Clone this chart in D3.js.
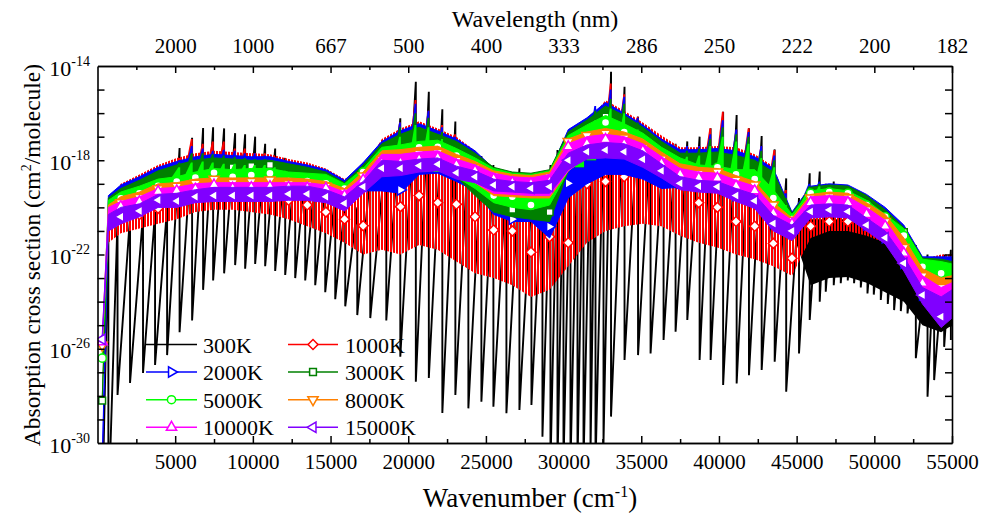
<!DOCTYPE html>
<html><head><meta charset="utf-8">
<script src="https://cdn.jsdelivr.net/npm/d3@7"></script>
<style>
body{margin:0;background:#fff}
svg{display:block}
</style>
</head><body>
<svg id="chart" width="982" height="513"></svg>
<script>
// ---------------- DATA (log10 of cross section, cm^2/molecule) ----------------
const wn = [300,700,1500,2700,3900,5100,6300,7500,8700,9900,11100,12300,13500,14700,15900,17100,18300,19500,20700,21900,23100,24300,25500,26700,27900,29100,30300,31500,32700,33900,35100,36300,37500,38700,39900,41100,42300,43500,44700,45900,47100,48300,49500,50700,51900,53100,54300,55000];

const redHi = [-32,-19.8,-19.0,-18.6,-18.2,-17.9,-17.7,-17.6,-17.65,-17.7,-17.75,-17.95,-18.1,-18.35,-18.8,-18.4,-17.1,-16.65,-16.35,-16.65,-17.0,-17.6,-18.6,-19.1,-19.3,-19.5,-18.6,-16.4,-15.45,-15.9,-16.4,-16.95,-17.45,-17.45,-17.4,-17.45,-17.75,-18.25,-20.3,-20.2,-20.2,-20.2,-20.4,-20.6,-20.9,-22.2,-22.0,-22.0];
const redLo = [-32,-21.5,-21.1,-20.9,-20.7,-20.5,-20.2,-20.1,-20.1,-20.2,-20.3,-20.5,-20.8,-21.1,-21.5,-22.0,-21.8,-22.0,-21.6,-21.8,-22.3,-22.8,-23.0,-23.3,-23.8,-23.5,-22.5,-21.5,-21.0,-20.8,-20.7,-20.8,-21.2,-21.5,-21.7,-22.0,-22.2,-22.5,-22.9,-21.3,-21.0,-21.0,-21.2,-21.5,-21.8,-23.0,-23.0,-23.0];
const redMk = [-32,null,-20.5,-20.3,-20.04,-19.8,-19.5,-19.4,-19.4,-19.5,-19.5,-19.7,-19.9,-20.2,-20.5,-20.78,-18.84,-19.97,-19.5,-19.8,-19.87,-20.4,-20.96,-21.0,-21.9,-21.25,-21.5,-19.0,-18.9,-18.7,-18.5,-17.4,-18.8,-19.8,-20.0,-20.6,-20.8,-21.53,-22.16,-20.8,-20.6,-20.6,-20.8,-21.0,-21.3,-22.6,-22.5,null];

const blueHi = [-31,-19.5,-19.05,-18.7,-18.3,-18.05,-17.85,-17.75,-17.8,-17.85,-17.85,-18.05,-18.2,-18.4,-18.85,-18.1,-17.2,-16.75,-16.45,-16.75,-17.1,-17.6,-18.35,-18.6,-18.7,-18.5,-16.7,-16.2,-15.55,-16.0,-16.5,-17.1,-17.55,-17.55,-17.5,-17.6,-17.85,-18.35,-20.2,-19.1,-19.0,-19.05,-19.45,-20.0,-20.75,-22.1,-22.1,-22.1];
const blueLo = [-31,-21.0,-20.6,-20.3,-19.9,-19.9,-19.7,-19.65,-19.65,-19.65,-19.65,-19.65,-19.65,-19.7,-20.05,-19.3,-19.3,-19.4,-18.6,-18.55,-18.9,-19.3,-20.3,-20.6,-20.6,-21.3,-19.6,-19.0,-18.6,-18.6,-18.8,-19.2,-19.15,-19.25,-19.3,-19.65,-19.95,-20.9,-21.4,-20.35,-20.3,-20.35,-20.9,-21.45,-22.6,-24.0,-25.0,-24.6];
const blueMk = [-31,null,-20.4,-20.15,-19.69,-19.73,-19.55,-19.5,-19.5,-19.5,-19.5,-19.43,-19.43,-19.55,-19.83,-19.12,-18.34,-19.26,-18.23,-18.17,-18.53,-18.7,-19.9,-20.5,-20.2,-20.82,-18.98,-17.64,-17.57,-17.64,-17.96,-18.45,-18.98,-19.1,-19.12,-19.5,-19.72,-20.68,-21.1,-20.18,-20.11,-20.18,-20.75,-21.29,-22.37,-23.72,-24.64,null];

const dgreenHi = [-28.2,-19.6,-19.2,-18.85,-18.45,-18.2,-18.0,-17.9,-17.95,-18.0,-18.0,-18.15,-18.3,-18.5,-18.95,-18.2,-17.3,-16.9,-16.6,-16.9,-17.2,-17.7,-18.3,-18.5,-18.55,-18.4,-16.8,-16.3,-15.7,-16.1,-16.6,-17.2,-17.7,-17.7,-17.65,-17.8,-18.0,-18.5,-20.25,-19.15,-19.05,-19.1,-19.5,-20.1,-20.85,-22.15,-22.2,-22.3];
const dgreenLo = [-28.2,-20.9,-20.6,-20.3,-19.9,-19.9,-19.7,-19.65,-19.65,-19.65,-19.65,-19.65,-19.65,-19.7,-20.05,-19.3,-18.6,-18.55,-18.4,-18.35,-18.7,-19.5,-20.2,-20.4,-20.5,-20.6,-18.45,-17.85,-17.8,-17.85,-18.2,-18.65,-19.15,-19.25,-19.3,-19.65,-19.95,-20.9,-21.4,-20.35,-20.3,-20.35,-20.9,-21.45,-22.6,-24.0,-25.0,-24.6];
const dgreenMk = [-28.2,null,-20.3,-20.1,-19.7,-19.7,-19.5,-19.45,-18.3,-18.25,-18.2,-19.45,-19.4,-19.5,-19.8,-19.1,-18.3,-18.3,-18.2,-17.35,-18.5,-18.7,-19.5,-20.1,-19.97,-20.2,-18.0,-17.6,-16.15,-17.6,-17.9,-18.4,-18.9,-19.1,-19.1,-19.45,-19.7,-20.6,-21.1,-20.1,-20.1,-20.1,-20.7,-21.2,-21.05,-23.7,-24.5,null];

const greenHi = [-26.4,-19.7,-19.35,-19.1,-18.8,-18.7,-18.5,-18.35,-18.4,-18.35,-18.35,-18.5,-18.55,-18.6,-19.0,-18.35,-17.45,-17.35,-17.2,-17.15,-17.5,-17.9,-18.35,-18.55,-18.6,-18.45,-16.95,-16.5,-16.1,-16.45,-16.85,-17.45,-17.9,-18.2,-18.25,-18.4,-18.4,-19.25,-20.3,-19.3,-19.2,-19.3,-19.7,-20.3,-20.9,-22.2,-22.3,-22.4];
const greenLo = [-26.4,-20.9,-20.6,-20.3,-19.9,-19.9,-19.7,-19.65,-19.65,-19.65,-19.65,-19.65,-19.65,-19.7,-20.05,-19.3,-18.6,-18.55,-18.4,-18.35,-18.7,-19.2,-19.8,-20.0,-20.1,-19.9,-18.45,-17.85,-17.8,-17.85,-18.2,-18.65,-19.15,-19.25,-19.3,-19.65,-19.95,-20.9,-21.4,-20.35,-20.3,-20.35,-20.9,-21.45,-22.6,-24.0,-25.0,-24.6];
const greenMk = [-26.4,null,-19.62,-19.4,-19.09,-18.9,-18.74,-18.53,-18.7,-18.63,-18.55,-18.88,-18.88,-18.98,-19.2,-18.5,-17.8,-17.7,-17.45,-17.43,-17.8,-18.2,-19.5,-19.55,-19.9,-19.3,-18.0,-17.3,-16.4,-16.8,-17.3,-17.85,-18.4,-18.5,-18.3,-18.6,-18.8,-19.6,-20.5,-19.4,-19.35,-19.4,-19.9,-20.4,-21.2,-22.52,-22.8,null];

const orangeHi = [-25.8,-19.9,-19.55,-19.35,-19.0,-18.95,-18.8,-18.75,-18.75,-18.75,-18.75,-18.75,-18.8,-18.9,-19.2,-18.5,-17.6,-17.55,-17.45,-17.4,-17.75,-18.05,-18.45,-18.6,-18.65,-18.5,-17.1,-16.8,-16.65,-16.8,-17.1,-17.65,-18.15,-18.3,-18.35,-18.65,-18.9,-19.8,-20.45,-19.45,-19.35,-19.4,-19.8,-20.3,-21.3,-22.6,-23.0,-22.9];
const orangeLo = [-25.85,-20.9,-20.6,-20.3,-19.9,-19.9,-19.7,-19.65,-19.65,-19.65,-19.65,-19.65,-19.65,-19.7,-20.05,-19.3,-18.6,-18.55,-18.4,-18.35,-18.7,-18.95,-19.5,-19.55,-19.6,-19.6,-18.45,-17.85,-17.8,-17.85,-18.2,-18.65,-19.15,-19.25,-19.3,-19.65,-19.95,-20.9,-21.4,-20.35,-20.3,-20.35,-20.9,-21.45,-22.6,-24.0,-25.0,-24.6];
const orangeMk = [-25.85,null,-19.8,-19.58,-19.21,-19.1,-18.98,-18.8,-18.94,-18.9,-18.84,-19.0,-19.03,-19.1,-19.35,-18.67,-17.97,-17.9,-17.7,-17.67,-18.0,-18.33,-18.65,-18.8,-18.85,-18.7,-17.2,-16.95,-16.85,-17.05,-17.45,-17.95,-18.5,-18.55,-18.5,-18.85,-19.05,-19.9,-20.55,-19.6,-19.55,-19.6,-20.1,-20.6,-21.7,-22.9,-23.4,null];

const magentaHi = [-25.6,-20.0,-19.75,-19.55,-19.2,-19.15,-19.0,-18.95,-18.95,-18.95,-18.95,-18.95,-18.95,-19.05,-19.35,-18.7,-17.75,-17.75,-17.65,-17.6,-17.95,-18.2,-18.55,-18.7,-18.75,-18.6,-17.3,-17.0,-16.9,-17.0,-17.3,-17.85,-18.35,-18.5,-18.55,-18.85,-19.1,-20.0,-20.55,-19.55,-19.5,-19.55,-20.0,-20.55,-21.7,-22.9,-23.4,-23.2];
const magentaLo = [-25.7,-20.9,-20.6,-20.3,-19.9,-19.9,-19.7,-19.65,-19.65,-19.65,-19.65,-19.65,-19.65,-19.7,-20.05,-19.3,-18.6,-18.55,-18.4,-18.35,-18.7,-18.95,-19.4,-19.45,-19.5,-19.5,-18.45,-17.85,-17.8,-17.85,-18.2,-18.65,-19.15,-19.25,-19.3,-19.65,-19.95,-20.9,-21.4,-20.35,-20.3,-20.35,-20.9,-21.45,-22.6,-24.0,-25.0,-24.6];
const magentaMk = [-25.7,null,-19.97,-19.76,-19.33,-19.3,-19.23,-19.05,-19.19,-19.16,-19.12,-19.15,-19.18,-19.2,-19.5,-18.84,-18.13,-18.1,-17.96,-17.9,-18.2,-18.45,-18.8,-18.95,-19.0,-18.9,-17.43,-17.3,-17.12,-17.31,-17.6,-18.13,-18.6,-18.75,-18.76,-19.1,-19.3,-20.25,-20.7,-19.8,-19.75,-19.8,-20.3,-20.8,-21.95,-23.22,-24.1,null];

const purpleHi = [-25.5,-20.3,-20.0,-19.85,-19.45,-19.4,-19.25,-19.15,-19.15,-19.15,-19.15,-19.1,-19.1,-19.25,-19.55,-18.9,-18.0,-18.05,-17.95,-17.9,-18.25,-18.45,-18.8,-18.9,-18.95,-18.85,-17.7,-17.35,-17.25,-17.3,-17.6,-18.15,-18.7,-18.85,-18.9,-19.2,-19.45,-20.35,-20.75,-19.9,-19.85,-19.9,-20.45,-21.0,-22.1,-23.4,-23.8,-23.5];
const purpleLo = [-25.7,-21.0,-20.7,-20.4,-20.0,-20.0,-19.8,-19.75,-19.75,-19.75,-19.75,-19.7,-19.7,-19.8,-20.15,-19.4,-18.7,-18.65,-18.5,-18.45,-18.8,-18.95,-19.3,-19.35,-19.4,-19.4,-18.4,-17.95,-17.9,-17.95,-18.3,-18.75,-19.25,-19.35,-19.4,-19.75,-20.05,-21.0,-21.4,-20.45,-20.4,-20.45,-21.0,-21.55,-22.7,-24.1,-25.1,-24.7];
const purpleMk = [-25.6,null,-20.4,-20.15,-19.69,-19.73,-19.55,-19.5,-19.5,-19.5,-19.5,-19.43,-19.43,-19.55,-19.83,-19.12,-18.34,-18.34,-18.23,-18.17,-18.53,-18.7,-19.05,-19.12,-19.19,-19.12,-18.0,-17.64,-17.57,-17.64,-17.96,-18.45,-18.98,-19.1,-19.12,-19.5,-19.72,-20.68,-21.0,-20.18,-20.11,-20.18,-20.75,-21.29,-22.37,-23.72,-24.64,null];

// band-head spikes rising above the dense part of the 1000K / 2000K / 3000K / 5000K spectra
const spikeWn = [5283,6089,6797,7442,8150,8859,9503,10148,10792,11436,12081,12725,18588,19490,20489,21326,22196,23034,23871,24709,25482,30443,31281,32054,33053,33922,34792,35598,36435,37208,37962,38755,39463,40269,41139,41931,42749,43587,44328,45842,46486];
const spikeBase = [-18.8,-18.8,-18.8,-18.8,-18.8,-18.8,-18.8,-18.8,-18.8,-18.8,-18.8,-18.8,-18.5,-18.5,-18.5,-18.5,-18.5,-18.5,-18.8,-19.0,-19.2,-18.4,-18.3,-18.0,-17.8,-17.8,-18.0,-18.2,-18.5,-18.8,-18.8,-18.8,-18.8,-18.8,-19.0,-19.0,-19.3,-19.5,-20.3,-19.8,-19.8];
const redSpike = [-17.9,-17.1,-17.3,-17.2,-17.2,-17.5,-17.5,-17.7,-17.7,-17.85,-18.0,-18.2,-17.3,-16.4,-15.44,-15.9,-16.5,-16.9,-17.6,-17.9,-18.3,-17.3,-16.8,-15.8,-14.74,-15.2,-16.15,-16.86,-17.1,-17.6,-17.5,-17.4,-16.64,-15.94,-16.72,-16.64,-17.4,-17.57,-19.26,-19.2,-19.1];
const blueSpike = [-18.0,-17.4,-17.5,-17.6,-17.55,-17.6,-17.7,-17.7,-17.8,-17.9,-18.1,-18.25,-17.2,-16.4,-15.6,-15.9,-16.6,-17.0,-17.5,-17.9,-18.3,-17.2,-16.6,-15.7,-15.0,-15.3,-16.2,-16.7,-17.2,-17.6,-17.4,-17.4,-16.9,-16.3,-16.7,-16.8,-17.4,-17.8,-19.4,-19.0,-18.9];
const dgreenSpike = [-18.1,-17.7,-17.7,-17.75,-17.8,-17.85,-17.9,-17.95,-17.95,-18.05,-18.2,-18.35,-17.4,-16.6,-16.0,-16.2,-16.8,-17.2,-17.7,-18.1,-18.4,-17.3,-16.7,-15.9,-15.4,-15.6,-16.4,-16.9,-17.3,-17.7,-17.6,-17.5,-17.1,-16.6,-16.9,-17.0,-17.6,-18.0,-19.6,-19.1,-19.0];
const greenSpike = [-18.3,-18.1,-18.05,-18.1,-18.15,-18.15,-18.2,-18.2,-18.2,-18.3,-18.45,-18.5,-17.6,-17.0,-16.5,-16.6,-17.1,-17.5,-17.9,-18.3,-18.55,-17.6,-16.9,-16.3,-15.8,-16.0,-16.7,-17.2,-17.6,-17.9,-17.85,-17.8,-17.4,-17.0,-17.2,-17.3,-17.9,-18.3,-19.9,-19.2,-19.1];

// 300 K: band heads (wavenumber), peak value just before each head drop, trough value after drop
const blackWn = [300,700,1290,2094,2930,3705,4480,5283,6089,6797,7442,8150,8859,9503,10148,10792,11436,12081,12725,13369,14014,14658,15302,15946,16720,17557,18588,19490,20489,21326,22196,23034,23871,24709,25482,26320,27157,27930,28639,29155,29606,29992,30443,30894,31281,31732,32054,32569,33053,33922,34792,35598,36435,37208,37962,38755,39463,40269,41139,41931,42749,43587,44328,45153,45842,46486,46873,47388,47839,48290,48696,49128,49559,49965,50416,50867,51273,51705,52137,52672,53425,53851,54495,54927];
const blackPeak = [-33,-21.0,-20.5,-20.4,-20.3,-20.2,-20.0,-17.48,-17.05,-16.63,-16.6,-16.65,-16.85,-16.9,-17.0,-17.3,-17.5,-17.9,-18.1,-18.4,-18.7,-19.0,-19.4,-19.7,-20.0,-18.6,-17.42,-16.22,-14.67,-15.09,-15.84,-16.36,-17.42,-17.82,-18.2,-18.55,-18.34,-19.2,-18.55,-18.2,-17.57,-17.8,-17.14,-17.5,-16.72,-16.9,-15.94,-16.5,-14.24,-14.88,-16.15,-16.86,-17.14,-17.3,-17.2,-17.0,-16.64,-15.94,-16.08,-16.64,-16.97,-17.54,-18.77,-19.6,-18.55,-18.48,-19.0,-18.9,-19.5,-19.8,-20.0,-20.2,-20.3,-20.4,-20.5,-20.6,-20.8,-21.0,-21.2,-21.6,-22.0,-22.2,-22.0,-21.8];
const blackTrough = [-33,-33,-27.96,-27.45,-27.03,-26.69,-26.27,-25.3,-24.8,-23.5,-23.1,-22.8,-22.45,-22.6,-22.4,-22.5,-22.7,-22.87,-23.0,-23.1,-23.3,-23.6,-23.9,-24.2,-24.57,-24.7,-24.8,-26.34,-27.4,-27.24,-28.73,-27.96,-28.53,-28.25,-28.46,-28.74,-28.6,-28.39,-29.73,-31,-31,-31,-31,-31,-31,-30.5,-31,-30.0,-28.88,-26.48,-26.27,-26.2,-25.63,-25.28,-24.78,-26.48,-26.48,-27.54,-27.47,-27.12,-26.9,-26.55,-27.82,-26.2,-24.78,-24.0,-23.58,-23.3,-23.22,-23.1,-23.22,-23.4,-23.65,-23.7,-23.93,-24.1,-24.36,-24.4,-24.5,-26.4,-28.04,-27.33,-25.92,-25.63];
// dense unresolved part of the 300 K spectrum (on the wn grid)
const blackCoreHi = [null,null,null,null,null,null,null,null,null,null,null,null,null,null,null,null,null,null,null,null,null,null,null,null,null,null,null,null,null,null,null,null,null,null,null,null,null,null,-21.0,-20.5,-20.5,-20.5,-20.6,-20.8,-21.0,-23.0,-23.5,-23.5];
const blackCoreLo = [null,null,null,null,null,null,null,null,null,null,null,null,null,null,null,null,null,null,null,null,null,null,null,null,null,null,null,null,null,null,null,null,null,null,null,null,null,null,-21.0,-23.3,-23.0,-22.95,-23.2,-23.6,-24.0,-25.0,-25.3,-25.0];

const xTicks = [5000,10000,15000,20000,25000,30000,35000,40000,45000,50000,55000];
const xMinor = [2500,7500,12500,17500,22500,27500,32500,37500,42500,47500,52500];
const topLabels = ["2000","1000","667","500","400","333","286","250","222","200","182"];
const yDecades = [-29,-28,-27,-26,-25,-24,-23,-22,-21,-20,-19,-18,-17,-16,-15];
const yLabelExp = [-30,-26,-22,-18,-14];

const series = [
  {name:"1000K",  color:"#ff0000", shape:"diamond", hi:redHi, lo:redLo, mk:redMk, hatch:true, spike:redSpike},
  {name:"2000K",  color:"#0000ff", shape:"right",   hi:blueHi, lo:blueLo, mk:blueMk, spike:blueSpike},
  {name:"3000K",  color:"#008000", shape:"square",  hi:dgreenHi, lo:dgreenLo, mk:dgreenMk, spike:dgreenSpike},
  {name:"5000K",  color:"#00ff00", shape:"circle",  hi:greenHi, lo:greenLo, mk:greenMk, spike:greenSpike},
  {name:"8000K",  color:"#ff8000", shape:"down",    hi:orangeHi, lo:orangeLo, mk:orangeMk},
  {name:"10000K", color:"#ff00ff", shape:"up",      hi:magentaHi, lo:magentaLo, mk:magentaMk},
  {name:"15000K", color:"#8000ff", shape:"left",    hi:purpleHi, lo:purpleLo, mk:purpleMk}
];

// ---------------- FONT (pick an installed Times-like face) ----------------
function pickFont(cands){
  const c = document.createElement("canvas").getContext("2d");
  const s = "Wavelength (nm) 0123456789 Absorption WMmiI";
  c.font = "40px monospace"; const base = c.measureText(s).width;
  for (const f of cands){
    c.font = `40px "${f}", monospace`;
    if (Math.abs(c.measureText(s).width - base) > 0.5) return `"${f}", serif`;
  }
  return "serif";
}
const FONT = pickFont(["Liberation Serif","Times New Roman","Tinos","Times","Nimbus Roman","FreeSerif","DejaVu Serif","Noto Serif"]);

// ---------------- LAYOUT ----------------
const L = 97.5, R = 952, T = 66, B = 443;
const svg = d3.select("#chart").style("font-family", FONT);
const x = d3.scaleLinear().domain([0,55000]).range([L,R]);
const y = d3.scaleLog().domain([1e-30,1e-14]).range([B,T]);
const py = v => y(Math.pow(10, v));

const defs = svg.append("defs");
defs.append("clipPath").attr("id","clip")
  .append("rect").attr("x",L).attr("y",T).attr("width",R-L).attr("height",B-T);
const pat = defs.append("pattern").attr("id","hatch-red").attr("patternUnits","userSpaceOnUse")
  .attr("width",3).attr("height",20);
pat.append("rect").attr("x",0).attr("y",0).attr("width",2).attr("height",20).attr("fill","#ff0000");

const plot = svg.append("g").attr("clip-path","url(#clip)");

// black 300K sawtooth
const blackPts = [];
blackWn.forEach((w,i)=>{ blackPts.push([w, blackPeak[i]]); blackPts.push([w, blackTrough[i]]); });
plot.append("path").datum(blackPts)
  .attr("d", d3.line().x(d=>x(d[0])).y(d=>py(d[1])))
  .attr("fill","none").attr("stroke","#000").attr("stroke-width",1.9).attr("stroke-linejoin","miter").attr("stroke-miterlimit",2);
plot.append("path").datum(wn.map((w,i)=>[w, blackCoreHi[i], blackCoreLo[i]]))
  .attr("d", d3.area().defined(d=>d[1]!==null).x(d=>x(d[0])).y0(d=>py(d[2])).y1(d=>py(d[1])))
  .attr("fill","#000");

function symPath(shape){
  const tri = d3.symbol().type(d3.symbolTriangle).size(46)();
  switch(shape){
    case "diamond": return {d:d3.symbol().type(d3.symbolSquare).size(50)(), rot:45};
    case "square":  return {d:d3.symbol().type(d3.symbolSquare).size(46)(), rot:0};
    case "circle":  return {d:d3.symbol().type(d3.symbolCircle).size(52)(), rot:0};
    case "up":      return {d:tri, rot:0};
    case "down":    return {d:tri, rot:180};
    case "right":   return {d:tri, rot:90};
    case "left":    return {d:tri, rot:-90};
  }
}

const area = d3.area().x(d=>x(d[0])).y0(d=>py(d[2])).y1(d=>py(d[1]));
const SPIKE_RAMP = 9; // px: slow rise before each band-head drop
series.forEach(s=>{
  const pts = wn.map((w,i)=>[w, s.hi[i], s.lo[i]]);
  const a = plot.append("path").datum(pts).attr("d", area);
  if (s.hatch) a.attr("fill","url(#hatch-red)");
  else a.attr("fill", s.color).attr("stroke", s.color).attr("stroke-width",1).attr("stroke-linejoin","round");
  if (s.spike) {
    plot.append("g").selectAll("path").data(spikeWn.map((w,i)=>[w, s.spike[i], spikeBase[i]]))
      .join("path")
      .attr("d", d=>{ const xx = x(d[0]), yt = py(d[1]), yb = py(d[2]);
        return `M${xx-SPIKE_RAMP},${yb}L${xx-1.2},${yt}L${xx+0.6},${yt}L${xx+0.6},${yb}Z`; })
      .attr("fill", s.color);
  }
  const sp = symPath(s.shape);
  plot.append("g").selectAll("path").data(wn.map((w,i)=>[w, s.mk[i]]).filter(d=>d[1]!==null))
    .join("path").attr("d", sp.d)
    .attr("transform", d=>`translate(${x(d[0])},${py(d[1])}) rotate(${sp.rot})`)
    .attr("fill","#fff").attr("stroke", s.color).attr("stroke-width",1.5);
});

// ---------------- AXES ----------------
const fs = 21;
function styleAxis(g){
  g.attr("font-family", null).attr("font-size", null);
  g.select(".domain").attr("stroke","#000").attr("stroke-width",1.6);
  g.selectAll(".tick line").attr("stroke","#000").attr("stroke-width",1.5);
  g.selectAll("text").attr("fill","#000").style("font-family", FONT).style("font-size", fs+"px");
}

svg.append("g").attr("transform",`translate(0,${B})`)
  .call(d3.axisBottom(x).tickValues(xTicks).tickSize(-7).tickPadding(11).tickFormat(d=>String(d)).tickSizeOuter(0)).call(styleAxis);
svg.append("g").attr("transform",`translate(0,${B})`)
  .call(d3.axisBottom(x).tickValues(xMinor).tickSize(-4).tickFormat("").tickSizeOuter(0)).call(styleAxis);
svg.append("g").attr("transform",`translate(0,${T})`)
  .call(d3.axisTop(x).tickValues(xTicks).tickSize(-7).tickPadding(13).tickFormat((d,i)=>topLabels[i]).tickSizeOuter(0)).call(styleAxis);
svg.append("g").attr("transform",`translate(0,${T})`)
  .call(d3.axisTop(x).tickValues(xMinor).tickSize(-4).tickFormat("").tickSizeOuter(0)).call(styleAxis);

const yv = yDecades.map(e=>Math.pow(10,e));
svg.append("g").attr("transform",`translate(${L},0)`)
  .call(d3.axisLeft(y).tickValues(yv).tickSize(-7).tickFormat("").tickSizeOuter(0)).call(styleAxis);
svg.append("g").attr("transform",`translate(${R},0)`)
  .call(d3.axisRight(y).tickValues(yv).tickSize(-7).tickFormat("").tickSizeOuter(0)).call(styleAxis);

function txt(sel){ return sel.append("text").style("font-family", FONT).attr("fill","#000"); }

// y labels 10^n
yLabelExp.forEach(e=>{
  const t = txt(svg).attr("x",90).attr("y",py(e)+9.5).attr("text-anchor","end").style("font-size","22px");
  t.append("tspan").text("10");
  t.append("tspan").attr("dy",-10).style("font-size","14px").text(String(e));
});

// titles
const xtTitle = txt(svg).attr("x",530).attr("y",507).attr("text-anchor","middle").style("font-size","27px");
xtTitle.append("tspan").text("Wavenumber (cm");
xtTitle.append("tspan").attr("dy",-10).style("font-size","16px").text("-1");
xtTitle.append("tspan").attr("dy",10).text(")");

txt(svg).attr("x",535).attr("y",27).attr("text-anchor","middle").style("font-size","24px").text("Wavelength (nm)");

const yt = txt(svg).attr("transform","translate(40,255) rotate(-90)").attr("text-anchor","middle").style("font-size","23.5px");
yt.append("tspan").text("Absorption cross section (cm");
yt.append("tspan").attr("dy",-9).style("font-size","14px").text("2");
yt.append("tspan").attr("dy",9).text("/molecule)");

// ---------------- LEGEND ----------------
const legendItems = [{name:"300K", color:"#000", shape:null}].concat(series);
const legendOrder = ["300K","1000K","2000K","3000K","5000K","8000K","10000K","15000K"];
const rowsY = [344.5, 372, 399.7, 427.3];
const colX = [[146,197,203],[288,338,345]];
legendOrder.forEach((nm,k)=>{
  const it = legendItems.find(d=>d.name===nm);
  const r = Math.floor(k/2), c = k%2;
  const [x0,x1,tx] = colX[c], yy = rowsY[r];
  const g = svg.append("g");
  g.append("line").attr("x1",x0).attr("x2",x1).attr("y1",yy).attr("y2",yy).attr("stroke",it.color).attr("stroke-width",1.5);
  if(it.shape){ const sp = symPath(it.shape);
    g.append("path").attr("d",sp.d).attr("transform",`translate(${(x0+x1)/2},${yy}) rotate(${sp.rot})`)
      .attr("fill","#fff").attr("stroke",it.color).attr("stroke-width",1.5); }
  txt(g).attr("x",tx).attr("y",yy+8).style("font-size","22px").text(nm);
});
</script>
</body></html>
